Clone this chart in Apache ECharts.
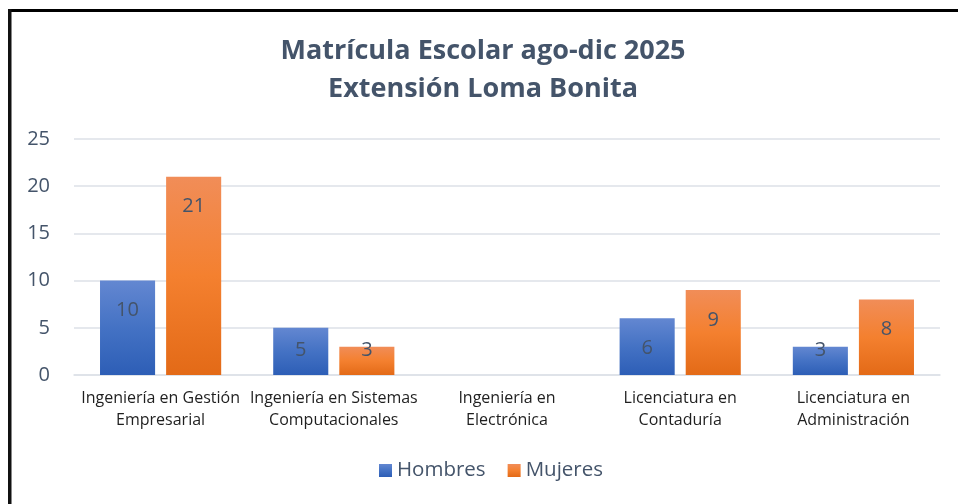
<!DOCTYPE html>
<html>
<head>
<meta charset="utf-8">
<script src="https://cdn.jsdelivr.net/npm/echarts@6/dist/echarts.min.js"></script>
<style>
  html, body { margin: 0; padding: 0; background: #fff; }
  #chart { width: 958px; height: 504px; }
</style>
</head>
<body>
<div id="chart"></div>
<script>
const categories = [
  'Ingeniería en Gestión\nEmpresarial',
  'Ingeniería en Sistemas\nComputacionales',
  'Ingeniería en\nElectrónica',
  'Licenciatura en\nContaduría',
  'Licenciatura en\nAdministración'
];
const hombres = [10, 5, null, 6, 3];
const mujeres = [21, 3, null, 9, 8];
const yTicks = { min: 0, max: 25, interval: 5 };

const textColor = '#44546A';
const font = '"Open Sans", "Noto Sans", sans-serif';

function grad(stops) {
  return new echarts.graphic.LinearGradient(0, 0, 0, 1,
    stops.map((c, i) => ({ offset: i / (stops.length - 1), color: c })));
}

// small bars get their label near the bottom, like the original
function withLabels(values) {
  return values.map(v => v == null ? null : ({
    value: v,
    label: v <= 5 ? { position: 'insideBottom', distance: 15 } : { position: 'insideTop', distance: 20 }
  }));
}

const barLabel = { show: true, color: textColor, fontSize: 20, fontFamily: font };

const chart = echarts.init(document.getElementById('chart'));
chart.setOption({
  animation: false,
  title: {
    text: 'Matrícula Escolar ago-dic 2025\nExtensión Loma Bonita',
    left: 478, top: 27, textAlign: 'center',
    textStyle: { color: textColor, fontSize: 27, fontWeight: 'bold', fontFamily: font, lineHeight: 38 }
  },
  graphic: [
    { type: 'rect', shape: { x: 8, y: 9, width: 950, height: 3 }, style: { fill: '#000' } },
    { type: 'rect', shape: { x: 8, y: 9, width: 3.5, height: 495 }, style: { fill: '#111' } }
  ],
  legend: {
    bottom: 18, left: 374, itemWidth: 13, itemHeight: 13, itemGap: 22,
    icon: 'rect',
    textStyle: { color: textColor, fontSize: 20.5, fontFamily: font }
  },
  grid: { left: 74, right: 18, top: 139, bottom: 129 },
  xAxis: {
    type: 'category',
    data: categories,
    axisLine: { lineStyle: { color: '#DDE1E7', width: 1.5 } },
    axisTick: { show: false },
    axisLabel: { color: '#1f1f1f', fontSize: 16, fontFamily: font, lineHeight: 22, margin: 12, interval: 0 }
  },
  yAxis: {
    type: 'value',
    min: yTicks.min, max: yTicks.max, interval: yTicks.interval,
    axisLine: { show: false },
    axisTick: { show: false },
    splitLine: { lineStyle: { color: '#DDE1E7', width: 1.5 } },
    axisLabel: { color: textColor, fontSize: 20, fontFamily: font, margin: 24 }
  },
  series: [
    {
      name: 'Hombres', type: 'bar', data: withLabels(hombres),
      barWidth: '31.8%', barGap: '20%',
      itemStyle: { color: grad(['#6387D1', '#4472C4', '#2D5EB6']) },
      label: barLabel
    },
    {
      name: 'Mujeres', type: 'bar', data: withLabels(mujeres),
      barWidth: '31.8%',
      itemStyle: { color: grad(['#F18D58', '#F4802F', '#E36A17']) },
      label: barLabel
    }
  ]
});
</script>
</body>
</html>
